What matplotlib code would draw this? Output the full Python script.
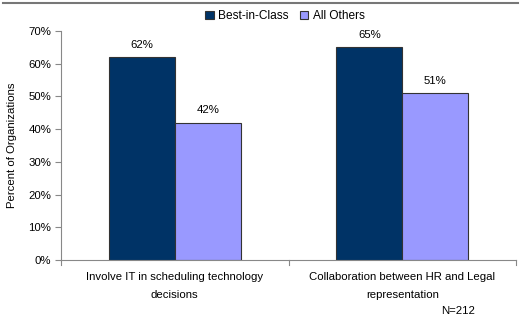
import matplotlib
matplotlib.use("Agg")
import matplotlib.pyplot as plt
import numpy as np
from matplotlib.lines import Line2D

plt.rcParams['font.family'] = ['Liberation Sans', 'DejaVu Sans']

categories = ["Involve IT in scheduling technology\ndecisions",
              "Collaboration between HR and Legal\nrepresentation"]
best_in_class = [62, 65]
all_others = [42, 51]
series_names = ["Best-in-Class", "All Others"]
yticks = [0, 10, 20, 30, 40, 50, 60, 70]

fs = 8.2
fig = plt.figure(figsize=(5.25, 3.18), dpi=100)
W, H = 525, 318
ax = fig.add_axes([61 / W, 1 - 260 / H, (516 - 61) / W, (260 - 31) / H])

x = np.arange(len(categories))
bw = 0.29
b1 = ax.bar(x - bw / 2, best_in_class, bw, color="#003366", edgecolor="#333333", linewidth=0.8, label=series_names[0])
b2 = ax.bar(x + bw / 2, all_others, bw, color="#9999FF", edgecolor="#333333", linewidth=0.8, label=series_names[1])

for rects, vals in ((b1, best_in_class), (b2, all_others)):
    for r, v in zip(rects, vals):
        ax.text(r.get_x() + r.get_width() / 2, v + 2.2, f"{v}%", ha="center", va="bottom", fontsize=fs, color="#000000")

ax.set_xlim(-0.5, len(categories) - 0.5)
ax.set_ylim(0, 70)
ax.set_yticks(yticks)
ax.set_yticklabels([f"{t}%" for t in yticks], fontsize=fs)
ax.set_xticks(x)
ax.set_xticklabels(categories, fontsize=fs, linespacing=1.9)
ax.tick_params(axis='x', length=0, pad=9)
ax.tick_params(axis='y', length=4, width=0.8, color="#888888", pad=3)
for xs in np.arange(-0.5, len(categories) + 0.5, 1.0):
    ax.plot([xs, xs], [0, -1.6], color="#888888", lw=0.8, clip_on=False)

for s in ("top", "right"):
    ax.spines[s].set_visible(False)
for s in ("left", "bottom"):
    ax.spines[s].set_color("#888888")
    ax.spines[s].set_linewidth(0.8)

ax.set_ylabel("Percent of Organizations", fontsize=fs, labelpad=8)

leg = fig.legend(handles=[b1, b2], labels=series_names, loc="center", bbox_to_anchor=(285 / W, 1 - 16 / H),
                 ncol=2, frameon=False, fontsize=8.6, handlelength=0.7, handleheight=0.7,
                 handletextpad=0.4, columnspacing=0.9)

fig.add_artist(Line2D([3 / W, 518 / W], [1 - 3 / H, 1 - 3 / H], color="#777777", lw=1.5, transform=fig.transFigure))
fig.text(458 / W, 1 - 316.5 / H, "N=212", fontsize=fs, ha="center", va="bottom")

fig.savefig("out.png", dpi=100)
